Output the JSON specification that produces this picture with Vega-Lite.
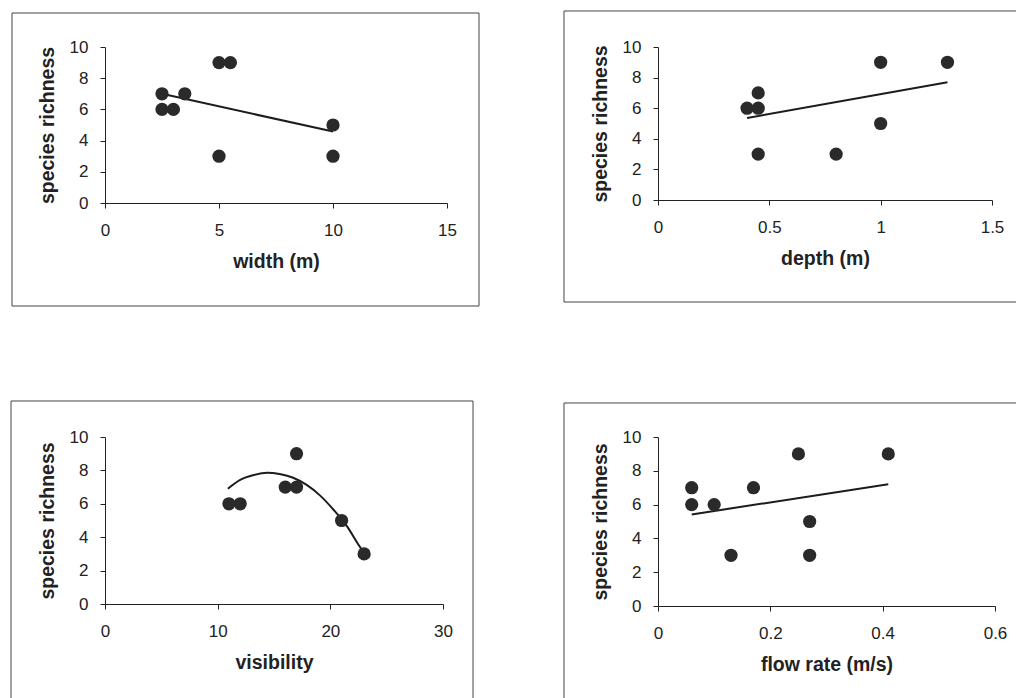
{
  "$schema": "https://vega.github.io/schema/vega-lite/v6.json",
  "background": "white",
  "padding": {"left": 10, "top": 10, "right": 0, "bottom": 0},
  "datasets": {
    "widthPts": [
      {"width": 2.5, "richness": 7}, {"width": 2.5, "richness": 6}, {"width": 3, "richness": 6},
      {"width": 3.5, "richness": 7}, {"width": 5, "richness": 9}, {"width": 5.5, "richness": 9},
      {"width": 5, "richness": 3}, {"width": 10, "richness": 5}, {"width": 10, "richness": 3}
    ],
    "widthFit": [{"width": 2.5, "richness": 7.0}, {"width": 10, "richness": 4.58}],
    "depthPts": [
      {"depth": 0.4, "richness": 6}, {"depth": 0.45, "richness": 7}, {"depth": 0.45, "richness": 6},
      {"depth": 0.45, "richness": 3}, {"depth": 0.8, "richness": 3}, {"depth": 1.0, "richness": 9},
      {"depth": 1.0, "richness": 5}, {"depth": 1.3, "richness": 9}
    ],
    "depthFit": [{"depth": 0.4, "richness": 5.36}, {"depth": 1.3, "richness": 7.69}],
    "visPts": [
      {"visibility": 11, "richness": 6}, {"visibility": 12, "richness": 6}, {"visibility": 16, "richness": 7},
      {"visibility": 17, "richness": 7}, {"visibility": 17, "richness": 9}, {"visibility": 21, "richness": 5},
      {"visibility": 23, "richness": 3}
    ],
    "visFit": [
      {"visibility": 10.9, "richness": 6.9}, {"visibility": 12.0, "richness": 7.43},
      {"visibility": 13.2, "richness": 7.72}, {"visibility": 14.4, "richness": 7.86},
      {"visibility": 15.5, "richness": 7.78}, {"visibility": 16.7, "richness": 7.56},
      {"visibility": 17.9, "richness": 7.13}, {"visibility": 19.1, "richness": 6.49},
      {"visibility": 20.3, "richness": 5.63}, {"visibility": 21.5, "richness": 4.63},
      {"visibility": 22.5, "richness": 3.55}, {"visibility": 22.8, "richness": 3.25}
    ],
    "flowPts": [
      {"flow": 0.06, "richness": 7}, {"flow": 0.06, "richness": 6}, {"flow": 0.1, "richness": 6},
      {"flow": 0.17, "richness": 7}, {"flow": 0.13, "richness": 3}, {"flow": 0.25, "richness": 9},
      {"flow": 0.27, "richness": 5}, {"flow": 0.27, "richness": 3}, {"flow": 0.41, "richness": 9}
    ],
    "flowFit": [{"flow": 0.06, "richness": 5.42}, {"flow": 0.41, "richness": 7.2}],
    "frame": [{}]
  },
  "spacing": 93,
  "vconcat": [
    {
      "spacing": 83,
      "hconcat": [
        {
          "width": 342, "height": 156,
          "layer": [
            {
              "data": {"name": "frame"},
              "mark": {"type": "rect", "fill": "transparent", "stroke": "#444", "strokeWidth": 1},
              "encoding": {
                "x": {"datum": -4.079, "type": "quantitative", "scale": {"domain": [0, 15], "nice": false}, "axis": {"values": [0, 5, 10, 15], "title": "width (m)"}},
                "x2": {"datum": 16.404},
                "y": {"datum": -6.603, "type": "quantitative", "scale": {"domain": [0, 10], "nice": false}, "axis": {"values": [0, 2, 4, 6, 8, 10], "title": "species richness"}},
                "y2": {"datum": 12.179}
              }
            },
            {
              "data": {"name": "widthFit"},
              "mark": {"type": "line", "color": "#1c1c1c", "strokeWidth": 2},
              "encoding": {
                "x": {"field": "width", "type": "quantitative", "scale": {"domain": [0, 15], "nice": false}, "axis": {"values": [0, 5, 10, 15], "title": "width (m)"}},
                "y": {"field": "richness", "type": "quantitative", "scale": {"domain": [0, 10], "nice": false}, "axis": {"values": [0, 2, 4, 6, 8, 10], "title": "species richness"}}
              }
            },
            {
              "data": {"name": "widthPts"},
              "mark": {"type": "circle", "color": "#2a2a2a", "opacity": 1, "size": 175},
              "encoding": {
                "x": {"field": "width", "type": "quantitative", "scale": {"domain": [0, 15], "nice": false}, "axis": {"values": [0, 5, 10, 15], "title": "width (m)"}},
                "y": {"field": "richness", "type": "quantitative", "scale": {"domain": [0, 10], "nice": false}, "axis": {"values": [0, 2, 4, 6, 8, 10], "title": "species richness"}}
              }
            }
          ]
        },
        {
          "width": 334, "height": 153,
          "layer": [
            {
              "data": {"name": "frame"},
              "mark": {"type": "rect", "fill": "transparent", "stroke": "#444", "strokeWidth": 1},
              "encoding": {
                "x": {"datum": -0.4222, "type": "quantitative", "scale": {"domain": [0, 1.5], "nice": false}, "axis": {"values": [0, 0.5, 1, 1.5], "format": "~g", "title": "depth (m)"}},
                "x2": {"datum": 1.6392},
                "y": {"datum": -6.667, "type": "quantitative", "scale": {"domain": [0, 10], "nice": false}, "axis": {"values": [0, 2, 4, 6, 8, 10], "title": "species richness"}},
                "y2": {"datum": 12.353}
              }
            },
            {
              "data": {"name": "depthFit"},
              "mark": {"type": "line", "color": "#1c1c1c", "strokeWidth": 2},
              "encoding": {
                "x": {"field": "depth", "type": "quantitative", "scale": {"domain": [0, 1.5], "nice": false}, "axis": {"values": [0, 0.5, 1, 1.5], "format": "~g", "title": "depth (m)"}},
                "y": {"field": "richness", "type": "quantitative", "scale": {"domain": [0, 10], "nice": false}, "axis": {"values": [0, 2, 4, 6, 8, 10], "title": "species richness"}}
              }
            },
            {
              "data": {"name": "depthPts"},
              "mark": {"type": "circle", "color": "#2a2a2a", "opacity": 1, "size": 175},
              "encoding": {
                "x": {"field": "depth", "type": "quantitative", "scale": {"domain": [0, 1.5], "nice": false}, "axis": {"values": [0, 0.5, 1, 1.5], "format": "~g", "title": "depth (m)"}},
                "y": {"field": "richness", "type": "quantitative", "scale": {"domain": [0, 10], "nice": false}, "axis": {"values": [0, 2, 4, 6, 8, 10], "title": "species richness"}}
              }
            }
          ]
        }
      ]
    },
    {
      "spacing": 89,
      "hconcat": [
        {
          "width": 338, "height": 167,
          "layer": [
            {
              "data": {"name": "frame"},
              "mark": {"type": "rect", "fill": "transparent", "stroke": "#444", "strokeWidth": 1},
              "encoding": {
                "x": {"datum": -8.343, "type": "quantitative", "scale": {"domain": [0, 30], "nice": false}, "axis": {"values": [0, 10, 20, 30], "title": "visibility"}},
                "x2": {"datum": 32.663},
                "y": {"datum": -6.168, "type": "quantitative", "scale": {"domain": [0, 10], "nice": false}, "axis": {"values": [0, 2, 4, 6, 8, 10], "title": "species richness"}},
                "y2": {"datum": 12.156}
              }
            },
            {
              "data": {"name": "visFit"},
              "mark": {"type": "line", "color": "#1c1c1c", "strokeWidth": 2, "interpolate": "monotone"},
              "encoding": {
                "x": {"field": "visibility", "type": "quantitative", "scale": {"domain": [0, 30], "nice": false}, "axis": {"values": [0, 10, 20, 30], "title": "visibility"}},
                "y": {"field": "richness", "type": "quantitative", "scale": {"domain": [0, 10], "nice": false}, "axis": {"values": [0, 2, 4, 6, 8, 10], "title": "species richness"}}
              }
            },
            {
              "data": {"name": "visPts"},
              "mark": {"type": "circle", "color": "#2a2a2a", "opacity": 1, "size": 175},
              "encoding": {
                "x": {"field": "visibility", "type": "quantitative", "scale": {"domain": [0, 30], "nice": false}, "axis": {"values": [0, 10, 20, 30], "title": "visibility"}},
                "y": {"field": "richness", "type": "quantitative", "scale": {"domain": [0, 10], "nice": false}, "axis": {"values": [0, 2, 4, 6, 8, 10], "title": "species richness"}}
              }
            }
          ]
        },
        {
          "width": 337, "height": 169,
          "layer": [
            {
              "data": {"name": "frame"},
              "mark": {"type": "rect", "fill": "transparent", "stroke": "#444", "strokeWidth": 1},
              "encoding": {
                "x": {"datum": -0.16736, "type": "quantitative", "scale": {"domain": [0, 0.6], "nice": false}, "axis": {"values": [0, 0.2, 0.4, 0.6], "format": "~g", "title": "flow rate (m/s)"}},
                "x2": {"datum": 0.65519},
                "y": {"datum": -6.095, "type": "quantitative", "scale": {"domain": [0, 10], "nice": false}, "axis": {"values": [0, 2, 4, 6, 8, 10], "title": "species richness"}},
                "y2": {"datum": 12.012}
              }
            },
            {
              "data": {"name": "flowFit"},
              "mark": {"type": "line", "color": "#1c1c1c", "strokeWidth": 2},
              "encoding": {
                "x": {"field": "flow", "type": "quantitative", "scale": {"domain": [0, 0.6], "nice": false}, "axis": {"values": [0, 0.2, 0.4, 0.6], "format": "~g", "title": "flow rate (m/s)"}},
                "y": {"field": "richness", "type": "quantitative", "scale": {"domain": [0, 10], "nice": false}, "axis": {"values": [0, 2, 4, 6, 8, 10], "title": "species richness"}}
              }
            },
            {
              "data": {"name": "flowPts"},
              "mark": {"type": "circle", "color": "#2a2a2a", "opacity": 1, "size": 175},
              "encoding": {
                "x": {"field": "flow", "type": "quantitative", "scale": {"domain": [0, 0.6], "nice": false}, "axis": {"values": [0, 0.2, 0.4, 0.6], "format": "~g", "title": "flow rate (m/s)"}},
                "y": {"field": "richness", "type": "quantitative", "scale": {"domain": [0, 10], "nice": false}, "axis": {"values": [0, 2, 4, 6, 8, 10], "title": "species richness"}}
              }
            }
          ]
        }
      ]
    }
  ],
  "config": {
    "view": {"stroke": null},
    "axis": {
      "grid": false,
      "domainColor": "#222", "domainWidth": 1,
      "tickColor": "#222", "tickSize": 5, "tickWidth": 1,
      "labelFont": "Liberation Sans", "labelFontSize": 17, "labelColor": "#222", "labelFlush": false, "labelOverlap": false,
      "titleFont": "Liberation Sans", "titleFontSize": 19.5, "titleFontWeight": "bold", "titleColor": "#222"
    },
    "axisX": {"labelPadding": 14, "titlePadding": 14},
    "axisY": {"labelPadding": 12, "titlePadding": 12}
  }
}
